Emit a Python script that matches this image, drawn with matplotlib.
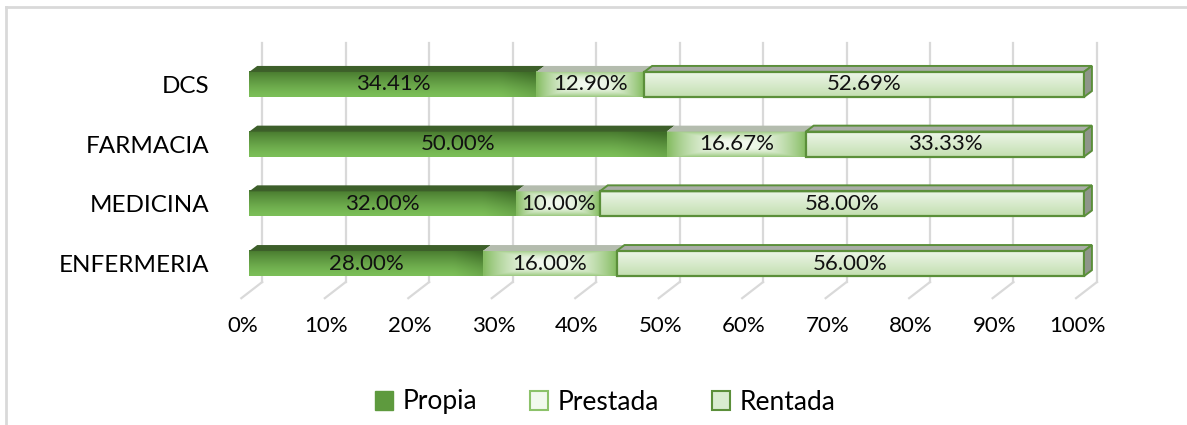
import numpy as np
import matplotlib
matplotlib.use("Agg")
from matplotlib import pyplot as plt
from matplotlib.patches import Rectangle, Polygon, Patch
from matplotlib.colors import to_rgb
from matplotlib.lines import Line2D

categories = ["ENFERMERIA", "MEDICINA", "FARMACIA", "DCS"]
series = ["Propia", "Prestada", "Rentada"]
propia = [28.00, 32.00, 50.00, 34.41]
prestada = [16.00, 10.00, 16.67, 12.90]
rentada = [56.00, 58.00, 33.33, 52.69]
xticks = [0, 10, 20, 30, 40, 50, 60, 70, 80, 90, 100]

plt.rcParams['font.family'] = ['Lato', 'DejaVu Sans']

W, H = 1187, 425
fig = plt.figure(figsize=(W / 100, H / 100), dpi=100)

# axes placed so that 0..100 % spans the bar front faces
px_per_unit = 59.7
ax = fig.add_axes([243 / W, (H - 293.4) / H, 841 / W, 4 * px_per_unit / H])
ax.set_xlim(0, 100)
ax.set_ylim(-0.5, 3.5)
for s in ax.spines.values():
    s.set_visible(False)

# 3d look constants (data units)
dx, dy = 0.95, 0.10          # bar depth
back_dx = 1.55               # back wall shift
floor_dx, floor_dy = -0.95, -0.27
wall_bottom, wall_top = -0.31, 3.70
bar_h = 0.42
grid_col = "#d9d9d9"

# back wall grid and floor lines
for t in xticks:
    ax.plot([t + back_dx, t + back_dx], [wall_bottom, wall_top], color=grid_col,
            lw=1.6, clip_on=False, zorder=1)
    ax.plot([t + back_dx, t + floor_dx], [wall_bottom, wall_bottom + floor_dy],
            color=grid_col, lw=1.6, clip_on=False, zorder=1)


def mix(c1, c2, t):
    c1, c2 = np.array(to_rgb(c1)), np.array(to_rgb(c2))
    t = np.clip(t, 0, 1)[..., None]
    return c1 * (1 - t) + c2 * t


def gradient_box(x0, x1, y0, y1, img, z):
    rect = Rectangle((x0, y0), x1 - x0, y1 - y0, facecolor="none", edgecolor="none")
    ax.add_patch(rect)
    im = ax.imshow(img, extent=[x0, x1, y0, y1], origin="lower", aspect="auto",
                   interpolation="bilinear", zorder=z, clip_on=False)
    im.set_clip_path(rect)


def propia_img():
    v = np.linspace(0, 1, 64)[:, None]  # 0 bottom, 1 top
    u = np.linspace(0, 1, 64)[None, :]
    t = v ** 1.3 * 0.85 + 0.25 * np.clip((u - 0.88) / 0.12, 0, 1)
    return mix("#7cbf58", "#3f6e28", t)


def prestada_img():
    v = np.linspace(-1, 1, 64)[:, None]
    u = np.linspace(-1, 1, 64)[None, :]
    r = np.maximum(np.abs(u) ** 2, np.abs(v) ** 2 * 0.8)
    return mix("#f4faf1", "#86bd63", r)


def rentada_img():
    v = np.linspace(0, 1, 64)[:, None] * np.ones((1, 4))
    return mix("#c3deb0", "#eef7ea", v)


fills = {"Propia": propia_img(), "Prestada": prestada_img(), "Rentada": rentada_img()}
top_cols = {"Propia": "#3d5f2a", "Prestada": "#b4bcae", "Rentada": "#a9ada6"}

for i, cat in enumerate(categories):
    vals = [propia[i], prestada[i], rentada[i]]
    left = 0.0
    y0, y1 = i - bar_h / 2, i + bar_h / 2
    for k, (name, v) in enumerate(zip(series, vals)):
        x0, x1 = left, left + v
        gradient_box(x0, x1, y0, y1, fills[name], 3)
        top = Polygon([(x0, y1), (x1, y1), (x1 + dx, y1 + dy), (x0 + dx, y1 + dy)],
                      closed=True, facecolor=top_cols[name], edgecolor="none",
                      zorder=3, clip_on=False)
        ax.add_patch(top)
        if name == "Rentada":
            ax.add_patch(Rectangle((x0, y0), v, bar_h, facecolor="none",
                                   edgecolor="#5b8f3a", lw=1.6, zorder=4, clip_on=False))
            ax.add_patch(Polygon([(x0, y1), (x1, y1), (x1 + dx, y1 + dy), (x0 + dx, y1 + dy)],
                                 closed=True, facecolor="none", edgecolor="#5b8f3a",
                                 lw=1.4, zorder=4, clip_on=False))
            ax.add_patch(Polygon([(x1, y0), (x1 + dx, y0 + dy), (x1 + dx, y1 + dy), (x1, y1)],
                                 closed=True, facecolor="#8e9589", edgecolor="#5b8f3a",
                                 lw=1.4, zorder=4, clip_on=False))
        ax.text((x0 + x1) / 2, i, f"{v:.2f}%", ha="center", va="center",
                fontsize=16, color="#111111", zorder=6)
        left = x1

ax.set_yticks(range(len(categories)), categories, fontsize=17.5)
ax.set_xticks(np.array(xticks) + floor_dx + 0.2, [f"{t}%" for t in xticks], fontsize=16)
ax.tick_params(axis="y", length=0, pad=24)
ax.tick_params(axis="x", length=0, pad=16)

# outer chart frame
fig.add_artist(Line2D([6 / W, 1.0], [1 - 7 / H, 1 - 7 / H], color="#d9d9d9", lw=2))
fig.add_artist(Line2D([6 / W, 6 / W], [0, 1 - 7 / H], color="#d9d9d9", lw=2))

handles = [Patch(facecolor="#5e9a3e", edgecolor="#5e9a3e"),
           Patch(facecolor="#f2f9ee", edgecolor="#8cc26a", lw=1.5),
           Patch(facecolor="#d9ecd0", edgecolor="#5b8f3a", lw=1.5)]
fig.legend(handles, series, loc="center", bbox_to_anchor=(605 / W, 1 - 402 / H),
           ncol=3, frameon=False, fontsize=19, handlelength=0.7, handleheight=0.7,
           handletextpad=0.35, columnspacing=2.0)

fig.savefig("out.png", dpi=100)
